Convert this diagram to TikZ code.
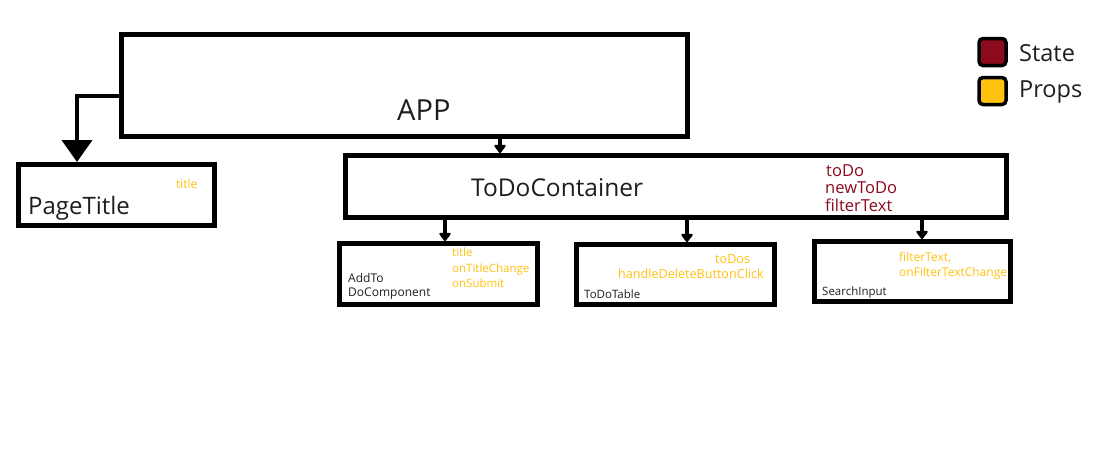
\documentclass[tikz,border=0pt]{standalone}
\usepackage{fontspec}
\setmainfont{Open Sans}
\usetikzlibrary{arrows.meta}
\definecolor{statecol}{HTML}{8C0A1E}
\definecolor{propcol}{HTML}{FFC20E}
\definecolor{ink}{HTML}{1E1E1E}
\tikzset{
  box/.style={draw, line width=5pt, fill=white},
  conn/.style={line width=4pt, -{Triangle[width=13pt,length=9pt,round]}},
  bigconn/.style={line width=4pt, -{Triangle[width=30pt,length=22pt]}},
  txt/.style={inner sep=0pt, anchor=base west, text=ink},
  proptxt/.style={txt, text=propcol},
  statetxt/.style={txt, text=statecol},
  legbox/.style={draw, line width=3.5pt, rounded corners=4pt}
}
\begin{document}
\begin{tikzpicture}[x=1pt,y=-1pt]
\useasboundingbox (0,0) rectangle (1103,472);
% boxes
\draw[box] (121,34.5) rectangle (687,136);
\coordinate (appW) at (121,96);
\coordinate (appB) at (500,136);
\draw[box] (18.5,164.5) rectangle (214.5,225.5);
\coordinate (ptT) at (77,162);
\draw[box] (345.5,155.5) rectangle (1006,217.5);
\coordinate (tcT) at (500,153);
\draw[box] (339.5,243.5) rectangle (537.5,304.5);
\draw[box] (576,244.5) rectangle (774.5,304);
\draw[box] (814.5,241.5) rectangle (1010.5,301.5);
% texts
\node[txt, font=\fontsize{29}{29}\selectfont] (app) at (397,120) {APP};
\node[txt, font=\fontsize{24}{24}\selectfont] (pt) at (28,214) {PageTitle};
\node[proptxt, font=\fontsize{12}{12}\selectfont] (ptp) at (176,188) {title};
\node[txt, font=\fontsize{24.5}{24.5}\selectfont] (tc) at (471,196) {ToDoContainer};
\node[statetxt, font=\fontsize{16.5}{16.5}\selectfont] (s1) at (826,176) {toDo};
\node[statetxt, font=\fontsize{16.5}{16.5}\selectfont] (s2) at (825,193) {newToDo};
\node[statetxt, font=\fontsize{16.5}{16.5}\selectfont] (s3) at (825,211) {filterText};
\node[txt, font=\fontsize{12}{12}\selectfont] (ad1) at (348,282) {AddTo};
\node[txt, font=\fontsize{12}{12}\selectfont] (ad2) at (348,296) {DoComponent};
\node[proptxt, font=\fontsize{11.5}{11.5}\selectfont] (ap1) at (452,256) {title};
\node[proptxt, font=\fontsize{11.5}{11.5}\selectfont] (ap2) at (452,272) {onTitleChange};
\node[proptxt, font=\fontsize{11.5}{11.5}\selectfont] (ap3) at (452,287) {onSubmit};
\node[proptxt, font=\fontsize{12.6}{12.6}\selectfont] (tp1) at (715,263) {toDos};
\node[proptxt, font=\fontsize{12.6}{12.6}\selectfont] (tp2) at (618,278) {handleDeleteButtonClick};
\node[txt, font=\fontsize{11.5}{11.5}\selectfont] (tt) at (584,298) {ToDoTable};
\node[proptxt, font=\fontsize{12}{12}\selectfont] (sp1) at (899,261) {filterText,};
\node[proptxt, font=\fontsize{12}{12}\selectfont] (sp2) at (899,276) {onFilterTextChange};
\node[txt, font=\fontsize{11.5}{11.5}\selectfont] (si) at (822,295) {SearchInput};
% connectors
\draw[line width=4pt] (appW) -- (77,96);
\draw[bigconn] (77,94) -- (ptT);
\draw[conn] (appB) -- (tcT);
\draw[conn] (445,217.5) -- (445,241);
\draw[conn] (687,217.5) -- (687,242);
\draw[conn] (922,217.5) -- (922,239);
% legend
\node[legbox, fill=statecol, minimum size=27pt, inner sep=0pt] (ls) at (992.5,52) {};
\node[legbox, fill=propcol, minimum size=27pt, inner sep=0pt] (lp) at (992.5,91) {};
\node[anchor=west, inner sep=0pt, text=ink, font=\fontsize{23.5}{23.5}\selectfont] (lst) at (1019,53) {State};
\node[anchor=west, inner sep=0pt, text=ink, font=\fontsize{23.5}{23.5}\selectfont] (lpt) at (1019,92) {Props};
\end{tikzpicture}
\end{document}
